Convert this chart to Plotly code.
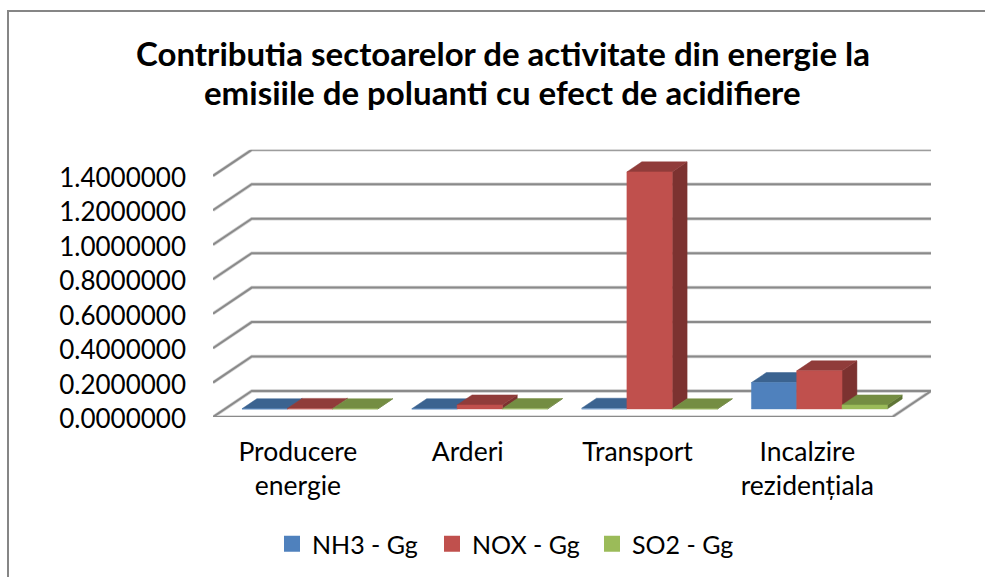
import plotly.graph_objects as go

W, H = 985, 577
title_lines = ["Contributia sectoarelor de activitate din energie la", "emisiile de poluanti cu efect de acidifiere"]
categories = ["Producere<br>energie", "Arderi", "Transport", "Incalzire<br>rezidențiala"]
nh3 = [0.001, 0.001, 0.004, 0.153]
nox = [0.003, 0.023, 1.376, 0.221]
so2 = [0.001, 0.002, 0.001, 0.023]
series_names = ["NH3 - Gg", "NOX - Gg", "SO2 - Gg"]
y_ticks = [0, 0.2, 0.4, 0.6, 0.8, 1.0, 1.2, 1.4]
y_labels = ["0.0000000", "0.2000000", "0.4000000", "0.6000000", "0.8000000", "1.0000000", "1.2000000", "1.4000000"]

front = ["#4F81BD", "#C0504D", "#9BBB59"]
top = ["#3B6390", "#903C3A", "#748D42"]
side = ["#2F4F73", "#7C3230", "#5F7536"]
GRID = "#8A8A8A"
FONT = "Lato"

# oblique projection, in data units
DX, DY = 38.7 / 169.75, 26 / 172.14   # full floor depth
D0, DB = 0.31, 0.385                  # bar front inset, bar depth (fractions of the floor depth)
GAP = 0.1
BW = (1 - 2 * GAP) / 3

fig = go.Figure()

# walls and floor
gx, gy = [], []
for v in y_ticks:
    gx += [0, DX, 4 + DX, None]
    gy += [v, v + DY, v + DY, None]
gx += [DX, 4 + DX, 4, 0, 0]
gy += [DY, DY, 0, 0, 0]
for w, c in ((3.5, "#D4D4D4"), (2, GRID)):
    fig.add_trace(go.Scatter(x=gx, y=gy, mode="lines", line=dict(color=c, width=w), cliponaxis=False,
                             showlegend=False, hoverinfo="skip", connectgaps=False))


def face(xs, ys, color):
    fig.add_trace(go.Scatter(x=xs, y=ys, mode="lines", fill="toself", fillcolor=color,
                             line=dict(color=color, width=0.5), showlegend=False, hoverinfo="skip"))


for ci in range(len(categories)):
    for si, vals in enumerate((nh3, nox, so2)):
        x0 = ci + GAP + si * BW + D0 * DX
        x1 = x0 + BW
        y0 = D0 * DY
        y1 = y0 + vals[ci]
        ox, oy = DB * DX, DB * DY
        face([x1, x1 + ox, x1 + ox, x1, x1], [y0, y0 + oy, y1 + oy, y1, y0], side[si])
        face([x0, x1, x1 + ox, x0 + ox, x0], [y1, y1, y1 + oy, y1 + oy, y1], top[si])
        face([x0, x1, x1, x0, x0], [y0, y0, y1, y1, y0], front[si])

for name, c in zip(series_names, front):
    fig.add_trace(go.Scatter(x=[None], y=[None], mode="markers", name=name,
                             marker=dict(symbol="square", size=17, color=c)))

fig.update_layout(
    width=W, height=H, margin=dict(l=0, r=0, t=0, b=0, autoexpand=False),
    paper_bgcolor="white", plot_bgcolor="white",
    font=dict(family=FONT, size=26, color="#000000"),
    title=dict(text="<b>" + title_lines[0] + "</b>",
               x=503 / W, xanchor="center", y=1 - 54 / H, yanchor="middle",
               font=dict(family=FONT, size=33, color="#000000")),
    annotations=[dict(text="<b>" + title_lines[1] + "</b>", xref="paper", yref="paper",
                      x=503 / W, xanchor="center", y=1 - 92 / H, yanchor="middle", showarrow=False,
                      font=dict(family=FONT, size=33, color="#000000"))],
    xaxis=dict(domain=[213 / W, 931 / W], range=[0, 4 + DX], showgrid=False, zeroline=False, showline=False,
               tickmode="array", tickvals=[0.5, 1.5, 2.5, 3.5], ticktext=categories, ticks="",
               ticklabelstandoff=16, tickangle=0, tickfont=dict(family=FONT, size=26.5)),
    yaxis=dict(domain=[1 - 417 / H, 1 - 149.8 / H], range=[0, 1.4 + DY], showgrid=False, zeroline=False, showline=False,
               tickmode="array", tickvals=y_ticks, ticktext=y_labels, ticks="", ticklabelstandoff=26,
               ticklabelshift=2),
    legend=dict(orientation="h", x=272 / W, xanchor="left", y=1 - 544 / H, yanchor="middle",
                entrywidth=115, entrywidthmode="pixels", itemwidth=30, bgcolor="rgba(0,0,0,0)",
                font=dict(family=FONT, size=25)),
    shapes=[dict(type="rect", xref="paper", yref="paper", x0=8 / W, x1=1000 / W, y0=1 - 11 / H, y1=1 - 590 / H,
                 line=dict(color="#868686", width=2), fillcolor="rgba(0,0,0,0)", layer="below")],
    hovermode=False,
)
fig.write_html("out.html", config={"displayModeBar": False},
               post_script="document.body.style.margin='0';document.body.style.overflow='hidden';")
